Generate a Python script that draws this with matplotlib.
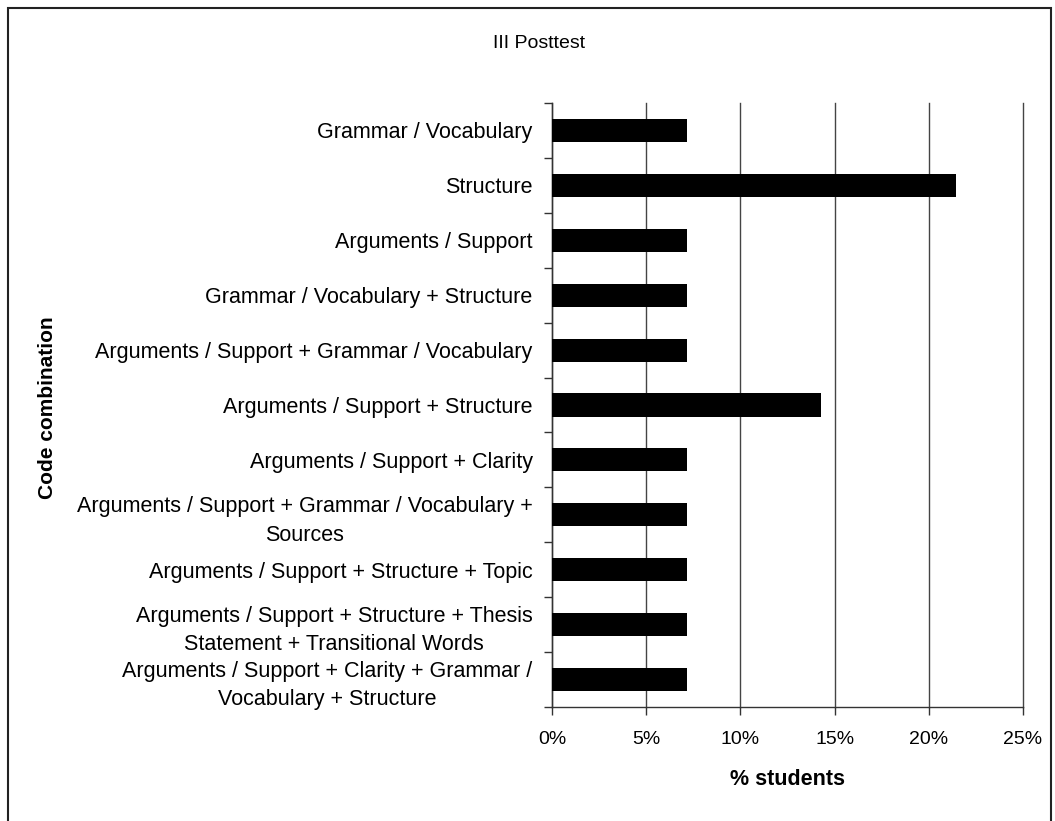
import numpy as np
import matplotlib
matplotlib.use("Agg")
import matplotlib.pyplot as plt
from matplotlib import font_manager
from matplotlib.patches import Rectangle
from matplotlib.ticker import FuncFormatter

# share of students per code combination (n = 14)
categories = [
    "Grammar / Vocabulary",
    "Structure",
    "Arguments / Support",
    "Grammar / Vocabulary + Structure",
    "Arguments / Support + Grammar / Vocabulary",
    "Arguments / Support + Structure",
    "Arguments / Support + Clarity",
    "Arguments / Support + Grammar / Vocabulary +\nSources",
    "Arguments / Support + Structure + Topic",
    "Arguments / Support + Structure + Thesis\nStatement + Transitional Words",
    "Arguments / Support + Clarity + Grammar /\nVocabulary + Structure",
]
percent = [7.14, 21.43, 7.14, 7.14, 7.14, 14.29, 7.14, 7.14, 7.14, 7.14, 7.14]
x_ticks = [0, 5, 10, 15, 20, 25]

plt.rcParams["font.family"] = ["Liberation Sans", "DejaVu Sans"]


def has_font(name):
    try:
        font_manager.findfont(name, fallback_to_default=False)
        return True
    except Exception:
        return False


narrow = has_font("Liberation Sans Narrow")
title_font = ["Liberation Sans Narrow"] if narrow else ["Liberation Sans"]
title_size = 16 if narrow else 14

W, H = 1055, 821
fig = plt.figure(figsize=(W / 100, H / 100), dpi=100)
ax = fig.add_axes([552 / W, 1 - 707 / H, (1023 - 552) / W, (707 - 103) / H])

y = np.arange(len(categories))
ax.barh(y, percent, height=0.42, color="black", zorder=3)

ax.set_xlim(0, 25)
ax.set_ylim(len(categories) - 0.5, -0.5)
ax.set_xticks(x_ticks)
ax.xaxis.set_major_formatter(FuncFormatter(lambda v, p: f"{v:.0f}%"))
ax.set_yticks(y)
ax.set_yticklabels(categories, fontsize=15.5, multialignment="center",
                   linespacing=1.45)
ax.set_yticks(np.arange(len(categories) + 1) - 0.5, minor=True)

ax.tick_params(axis="y", which="major", length=0, pad=14)
ax.tick_params(axis="y", which="minor", length=6, width=1, color="#333333",
               direction="out")
ax.tick_params(axis="x", which="major", length=6, width=1, color="#333333",
               direction="out", labelsize=14, pad=11)

ax.grid(axis="x", color="#444444", linewidth=1, zorder=1)
for gl in ax.get_xgridlines():
    gl.set_clip_on(False)
for side in ["top", "right"]:
    ax.spines[side].set_visible(False)
for side in ["left", "bottom"]:
    ax.spines[side].set_color("#333333")
    ax.spines[side].set_linewidth(1)

fig.text(539 / W, 1 - 44 / H, "III Posttest", ha="center", va="center",
         family=title_font, fontsize=title_size)
fig.text(787 / W, 1 - 779 / H, "% students", ha="center", va="center",
         fontsize=15.5, fontweight="bold")
fig.text(48 / W, 1 - 408 / H, "Code combination", ha="center", va="center",
         rotation=90, fontsize=15, fontweight="bold")

# outer frame around the chart
fig.patches.append(Rectangle((8 / W, -0.05), (1051 - 8) / W, 1.05 - 8 / H,
                             transform=fig.transFigure, fill=False,
                             edgecolor="#222222", linewidth=1.5))

fig.savefig("out.png", dpi=100, facecolor="white")
